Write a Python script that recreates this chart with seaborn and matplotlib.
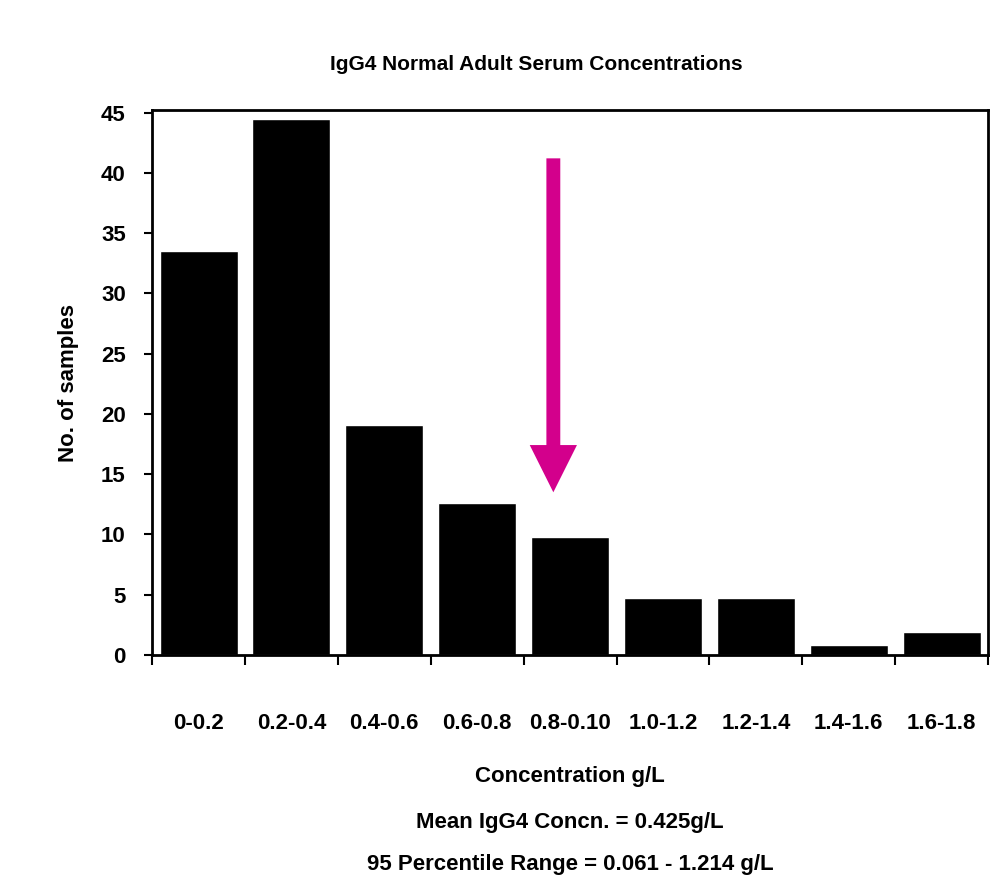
import matplotlib
matplotlib.use("Agg")
import matplotlib.pyplot as plt
import seaborn as sns
import pandas as pd

# Data
categories = ["0-0.2", "0.2-0.4", "0.4-0.6", "0.6-0.8", "0.8-0.10",
              "1.0-1.2", "1.2-1.4", "1.4-1.6", "1.6-1.8"]
counts = [33.5, 44.5, 19.1, 12.6, 9.8, 4.7, 4.7, 0.8, 1.9]
y_ticks = [0, 5, 10, 15, 20, 25, 30, 35, 40, 45]

title = "IgG4 Normal Adult Serum Concentrations"
x_label = "Concentration g/L"
note_mean = "Mean IgG4 Concn. = 0.425g/L"
note_range = "95 Percentile Range = 0.061 - 1.214 g/L"

sns.set_style("white")
plt.rcParams["font.family"] = ["Liberation Sans Narrow", "Liberation Sans", "DejaVu Sans"]
plt.rcParams["font.weight"] = "bold"
plt.rcParams["text.color"] = "black"
plt.rcParams["axes.labelcolor"] = "black"
plt.rcParams["xtick.color"] = "black"
plt.rcParams["ytick.color"] = "black"

df = pd.DataFrame({"range": categories, "count": counts})

fig = plt.figure(figsize=(9.94, 8.81), dpi=100)
ax = fig.add_axes([0.153, 0.2565, 0.841, 0.6185])

sns.barplot(data=df, x="range", y="count", order=categories, color="black",
            saturation=1, width=0.84, ax=ax)

ax.set_ylim(0, 45.2)
ax.set_xlim(-0.5, len(categories) - 0.5)
ax.set_yticks(y_ticks)
ax.tick_params(axis="y", direction="out", length=6, width=1.5, labelsize=16, pad=13,
               left=True)

# ticks sit on the category boundaries, labels at the bar centres
ax.set_xticks([i - 0.5 for i in range(len(categories) + 1)])
ax.set_xticklabels([])
ax.set_xticks(range(len(categories)), minor=True)
ax.set_xticklabels(categories, minor=True)
ax.tick_params(axis="x", which="major", direction="out", length=7, width=1.5, bottom=True)
ax.tick_params(axis="x", which="minor", length=0, labelsize=16, pad=42)

for side in ["left", "right", "top", "bottom"]:
    ax.spines[side].set_visible(True)
    ax.spines[side].set_color("black")
    ax.spines[side].set_linewidth(2)

ax.text(0.46, 1.083, title, transform=ax.transAxes, ha="center", va="center",
        fontsize=15, fontweight="bold")
ax.set_ylabel("No. of samples", fontsize=16, fontweight="bold", labelpad=16)
ax.set_xlabel(x_label, fontsize=16, fontweight="bold", labelpad=23)
ax.text(0.5, -0.308, note_mean, transform=ax.transAxes, ha="center", va="center",
        fontsize=16, fontweight="bold")
ax.text(0.5, -0.385, note_range, transform=ax.transAxes, ha="center", va="center",
        fontsize=16, fontweight="bold")

# magenta pointer arrow above the 0.8-1.0 bar
ax.annotate("", xy=(3.82, 13.5), xytext=(3.82, 41.2),
            arrowprops=dict(arrowstyle="simple,head_length=34,head_width=34,tail_width=10",
                            mutation_scale=1, color="#d3008c", lw=0,
                            shrinkA=0, shrinkB=0))

fig.savefig("out.png", dpi=100)
